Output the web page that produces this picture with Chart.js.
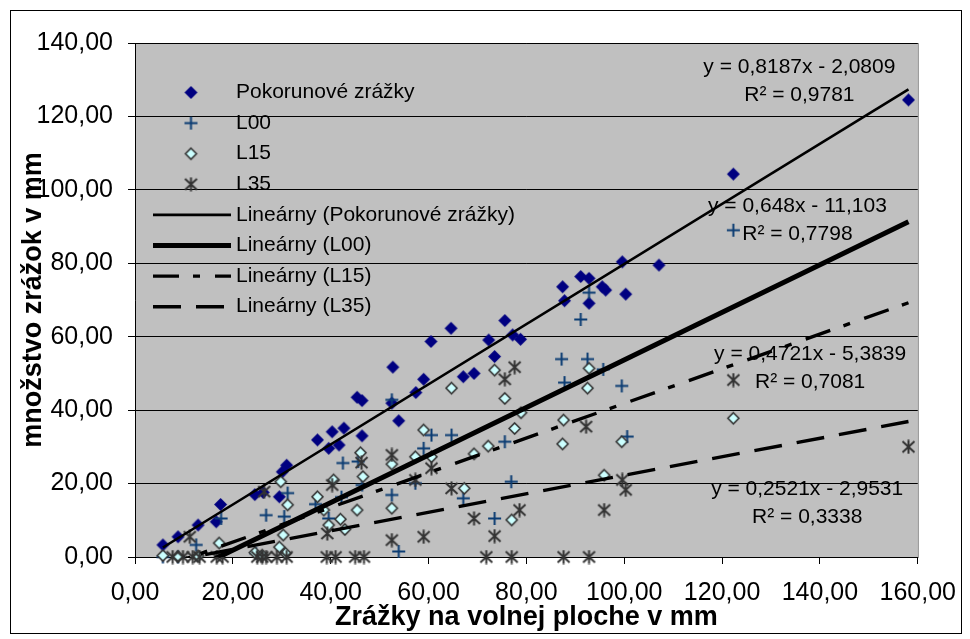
<!DOCTYPE html>
<html>
<head>
<meta charset="utf-8">
<script src="https://cdn.jsdelivr.net/npm/chart.js@4.4.0/dist/chart.umd.min.js"></script>
<style>
html, body { margin: 0; padding: 0; background: #fff; }
canvas { display: block; }
</style>
</head>
<body>
<canvas id="rainChart" width="970" height="639"></canvas>
<script>
// values (mm)
var pokX = [5.7, 8.8, 12.9, 16.6, 17.5, 24.5, 26.2, 29.5, 30.1, 31.0, 37.3, 39.6, 40.3, 41.7, 42.7, 45.4, 46.4, 46.4, 52.5, 52.7, 53.9, 57.4, 59.0, 60.5, 64.6, 67.1, 69.3, 72.3, 73.5, 75.6, 77.2, 78.8, 87.4, 87.8, 91.1, 92.8, 92.8, 95.5, 96.2, 99.6, 100.3, 107.1, 122.3, 158.1];
var pokY = [3.3, 5.5, 8.7, 9.6, 14.3, 17.0, 17.6, 16.4, 23.2, 25.0, 31.9, 29.6, 34.1, 30.5, 35.1, 43.5, 42.6, 33.0, 41.9, 51.7, 37.1, 44.8, 48.4, 58.7, 62.3, 49.1, 50.0, 59.1, 54.6, 64.4, 60.5, 59.3, 73.6, 69.8, 76.4, 75.9, 69.1, 73.6, 72.7, 80.4, 71.6, 79.5, 104.3, 124.5];

var l00X = [5.7, 8.8, 12.5, 17.6, 24.7, 26.8, 30.5, 31.2, 36.9, 39.6, 42.2, 42.5, 45.6, 46.4, 52.5, 52.5, 53.9, 57.3, 59.0, 60.6, 64.7, 67.1, 73.5, 75.6, 76.9, 87.2, 87.8, 91.1, 92.5, 92.8, 95.7, 99.5, 100.6, 122.3];
var l00Y = [0, 0, 3.3, 10.5, 1.0, 11.4, 11.0, 17.4, 14.4, 10.5, 16.3, 25.6, 26.0, 19.6, 16.9, 42.8, 1.5, 20.1, 29.6, 33.2, 33.2, 16.0, 10.5, 31.4, 20.5, 53.9, 47.5, 64.7, 53.9, 72.0, 51.1, 46.6, 32.8, 89.0];

var l15X = [5.7, 8.8, 12.9, 17.2, 24.5, 26.0, 29.5, 29.8, 30.3, 30.8, 31.2, 37.3, 38.6, 39.6, 40.6, 42.0, 42.9, 45.4, 46.1, 46.6, 52.5, 52.5, 57.3, 59.0, 60.6, 64.7, 67.3, 69.3, 72.2, 73.5, 75.6, 77.0, 77.6, 78.9, 87.4, 87.6, 92.5, 92.8, 95.9, 99.5, 122.3];
var l15Y = [0.4, 0.2, 0.3, 3.8, 1.2, 0.5, 2.7, 20.5, 6.0, 1.0, 14.2, 16.4, 12.8, 8.7, 21.0, 10.3, 7.5, 12.8, 28.4, 21.9, 13.3, 25.3, 27.3, 34.6, 27.3, 46.0, 18.7, 28.1, 30.2, 50.9, 43.2, 10.1, 35.0, 39.3, 30.8, 37.3, 46.0, 51.4, 22.3, 31.4, 37.8];

var l35X = [7.7, 9.8, 11.2, 11.8, 13.2, 16.7, 17.9, 25.0, 26.0, 26.4, 26.8, 29.0, 31.0, 39.2, 39.3, 40.3, 41.0, 45.0, 46.3, 46.8, 52.5, 52.5, 57.3, 59.0, 60.6, 64.7, 69.3, 71.8, 73.5, 75.6, 77.0, 77.6, 78.6, 87.6, 92.2, 92.8, 95.9, 99.6, 100.3, 122.3, 158.1];
var l35Y = [0, 0, 5.5, 0, 0, 0, 0, 0, 0, 17.8, 0, 0, 0, 0, 6.4, 19.6, 0, 0, 25.7, 0, 27.8, 4.6, 21.0, 5.5, 24.2, 18.7, 10.5, 0, 5.7, 48.4, 0, 51.7, 12.8, 0, 35.5, 0, 12.8, 21.0, 18.3, 48.2, 30.0];

// trendline coefficients [slope, intercept] and R2 as printed on the chart
var trendPok = [0.8187, -2.0809];
var trendL00 = [0.648, -11.103];
var trendL15 = [0.4721, -5.3839];
var trendL35 = [0.2521, -2.9531];
var r2Values = [0.9781, 0.7798, 0.7081, 0.3338];

var seriesNames = ['Pokorunové zrážky', 'L00', 'L15', 'L35'];

var fontFamily = '"Liberation Sans", Arial, sans-serif';
Chart.defaults.font.family = fontFamily;
Chart.defaults.font.size = 25;
Chart.defaults.color = '#000';

function comma(v) {
    return String(v).replace('.', ',');
}

function pts(xs, ys) {
    return xs.map(function (x, i) { return { x: x, y: ys[i] }; });
}

var allX = pokX.concat(l00X, l15X, l35X);
var xMin = Math.min.apply(null, allX);
var xMax = Math.max.apply(null, allX);

function trend(c) {
    return [{ x: xMin, y: c[0] * xMin + c[1] }, { x: xMax, y: c[0] * xMax + c[1] }];
}

// Excel style markers
function marker(draw) {
    var c = document.createElement('canvas');
    c.width = 15;
    c.height = 15;
    draw(c.getContext('2d'));
    return c;
}
var diamondNavy = marker(function (g) {
    g.beginPath();
    g.moveTo(7.5, 1); g.lineTo(14, 7.5); g.lineTo(7.5, 14); g.lineTo(1, 7.5);
    g.closePath();
    g.fillStyle = '#000080';
    g.fill();
});
var plusBlue = marker(function (g) {
    g.strokeStyle = '#0b3c73';
    g.lineWidth = 2;
    g.beginPath();
    g.moveTo(7.5, 1); g.lineTo(7.5, 14);
    g.moveTo(1, 7.5); g.lineTo(14, 7.5);
    g.stroke();
});
var diamondCyan = marker(function (g) {
    g.beginPath();
    g.moveTo(7.5, 2); g.lineTo(13, 7.5); g.lineTo(7.5, 13); g.lineTo(2, 7.5);
    g.closePath();
    g.fillStyle = '#ccffff';
    g.fill();
    g.strokeStyle = '#333333';
    g.lineWidth = 1.6;
    g.stroke();
});
var starGray = marker(function (g) {
    g.strokeStyle = '#333333';
    g.lineWidth = 2;
    g.beginPath();
    g.moveTo(7.5, 0.5); g.lineTo(7.5, 14.5);
    g.moveTo(1.5, 2); g.lineTo(13.5, 13);
    g.moveTo(13.5, 2); g.lineTo(1.5, 13);
    g.stroke();
});

var plotBackground = {
    id: 'plotBackground',
    beforeDraw: function (chart) {
        var c = chart.ctx, a = chart.chartArea;
        c.save();
        c.fillStyle = '#ffffff';
        c.fillRect(0, 0, chart.width, chart.height);
        c.strokeStyle = '#000000';
        c.lineWidth = 1;
        c.strokeRect(10.5, 10.5, 951, 623);
        c.fillStyle = '#c0c0c0';
        c.fillRect(a.left, a.top, a.right - a.left, a.bottom - a.top);
        c.strokeStyle = '#808080';
        c.strokeRect(a.left + 0.5, a.top + 0.5, a.right - a.left, a.bottom - a.top);
        c.restore();
    }
};

var excelLegend = {
    id: 'excelLegend',
    afterDraw: function (chart) {
        var c = chart.ctx, a = chart.chartArea;
        c.save();
        c.font = '21px ' + fontFamily;
        c.fillStyle = '#000';
        c.textBaseline = 'middle';
        chart.data.datasets.forEach(function (ds, i) {
            var y = a.top + 49.5 + i * 30.6;
            if (ds.showLine) {
                c.beginPath();
                c.setLineDash(ds.borderDash || []);
                c.lineWidth = ds.borderWidth;
                c.strokeStyle = '#000';
                c.moveTo(a.left + 18, y);
                c.lineTo(a.left + 96, y);
                c.stroke();
                c.setLineDash([]);
            } else {
                var m = ds.pointStyle;
                c.drawImage(m, a.left + 56 - m.width / 2, y - m.height / 2);
            }
            c.fillText(ds.label, a.left + 101, y);
        });
        c.restore();
    }
};

// equation labels, anchored in data units [x, y]
var labelAnchors = [[135.8, 133.5], [135.4, 95.6], [138.0, 55.3], [137.4, 18.5]];
var trendLabels = {
    id: 'trendLabels',
    afterDatasetsDraw: function (chart) {
        var c = chart.ctx, xs = chart.scales.x, ys = chart.scales.y;
        var coefs = [trendPok, trendL00, trendL15, trendL35];
        c.save();
        c.font = '21px ' + fontFamily;
        c.fillStyle = '#000';
        c.textAlign = 'center';
        c.textBaseline = 'middle';
        coefs.forEach(function (k, i) {
            var px = xs.getPixelForValue(labelAnchors[i][0]);
            var py = ys.getPixelForValue(labelAnchors[i][1]);
            c.fillText('y = ' + comma(k[0]) + 'x - ' + comma(-k[1]), px, py);
            c.fillText('R\u00b2 = ' + comma(r2Values[i]), px, py + 28.5);
        });
        c.restore();
    }
};

var ctx = document.getElementById('rainChart').getContext('2d');
var rainChart = new Chart(ctx, {
    type: 'scatter',
    data: {
        datasets: [
            { label: seriesNames[0], data: pts(pokX, pokY), pointStyle: diamondNavy, pointRadius: 7, order: 8, clip: false },
            { label: seriesNames[1], data: pts(l00X, l00Y), pointStyle: plusBlue, pointRadius: 7, order: 7, clip: false },
            { label: seriesNames[2], data: pts(l15X, l15Y), pointStyle: diamondCyan, pointRadius: 7, order: 6, clip: false },
            { label: seriesNames[3], data: pts(l35X, l35Y), pointStyle: starGray, pointRadius: 7, order: 5, clip: false },
            {
                label: 'Lineárny (' + seriesNames[0] + ')', data: trend(trendPok), showLine: true,
                pointRadius: 0, borderColor: '#000', borderWidth: 2.6, order: 4
            },
            {
                label: 'Lineárny (' + seriesNames[1] + ')', data: trend(trendL00), showLine: true,
                pointRadius: 0, borderColor: '#000', borderWidth: 5, order: 3
            },
            {
                label: 'Lineárny (' + seriesNames[2] + ')', data: trend(trendL15), showLine: true,
                pointRadius: 0, borderColor: '#000', borderWidth: 3.4, borderDash: [26, 14, 7, 15], order: 2
            },
            {
                label: 'Lineárny (' + seriesNames[3] + ')', data: trend(trendL35), showLine: true,
                pointRadius: 0, borderColor: '#000', borderWidth: 3.4, borderDash: [28, 15], order: 1
            }
        ]
    },
    options: {
        responsive: false,
        animation: false,
        events: [],
        layout: { padding: { left: 0, top: 43, right: 48, bottom: 0 } },
        plugins: {
            legend: { display: false },
            tooltip: { enabled: false }
        },
        scales: {
            x: {
                type: 'linear',
                min: 0,
                max: 160,
                afterFit: function (scale) { scale.height = 82; },
                ticks: {
                    stepSize: 20,
                    padding: 14,
                    maxRotation: 0,
                    callback: function (v) { return comma(v.toFixed(2)); }
                },
                grid: { drawOnChartArea: false, tickLength: 7, color: '#000' },
                border: { color: '#000' },
                title: {
                    display: true,
                    text: 'Zrážky na volnej ploche v mm',
                    font: { size: 27, weight: 'bold' },
                    padding: { top: 0, bottom: 5 }
                }
            },
            y: {
                min: 0,
                max: 140,
                afterFit: function (scale) { scale.width = 135; },
                ticks: {
                    stepSize: 20,
                    padding: 15,
                    callback: function (v) { return comma(v.toFixed(2)); }
                },
                grid: { tickLength: 7, color: '#000' },
                border: { color: '#000' },
                title: {
                    display: true,
                    text: 'množstvo zrážok v mm',
                    font: { size: 27, weight: 'bold' },
                    padding: { top: 17, bottom: 0 }
                }
            }
        }
    },
    plugins: [plotBackground, excelLegend, trendLabels]
});
</script>
</body>
</html>
